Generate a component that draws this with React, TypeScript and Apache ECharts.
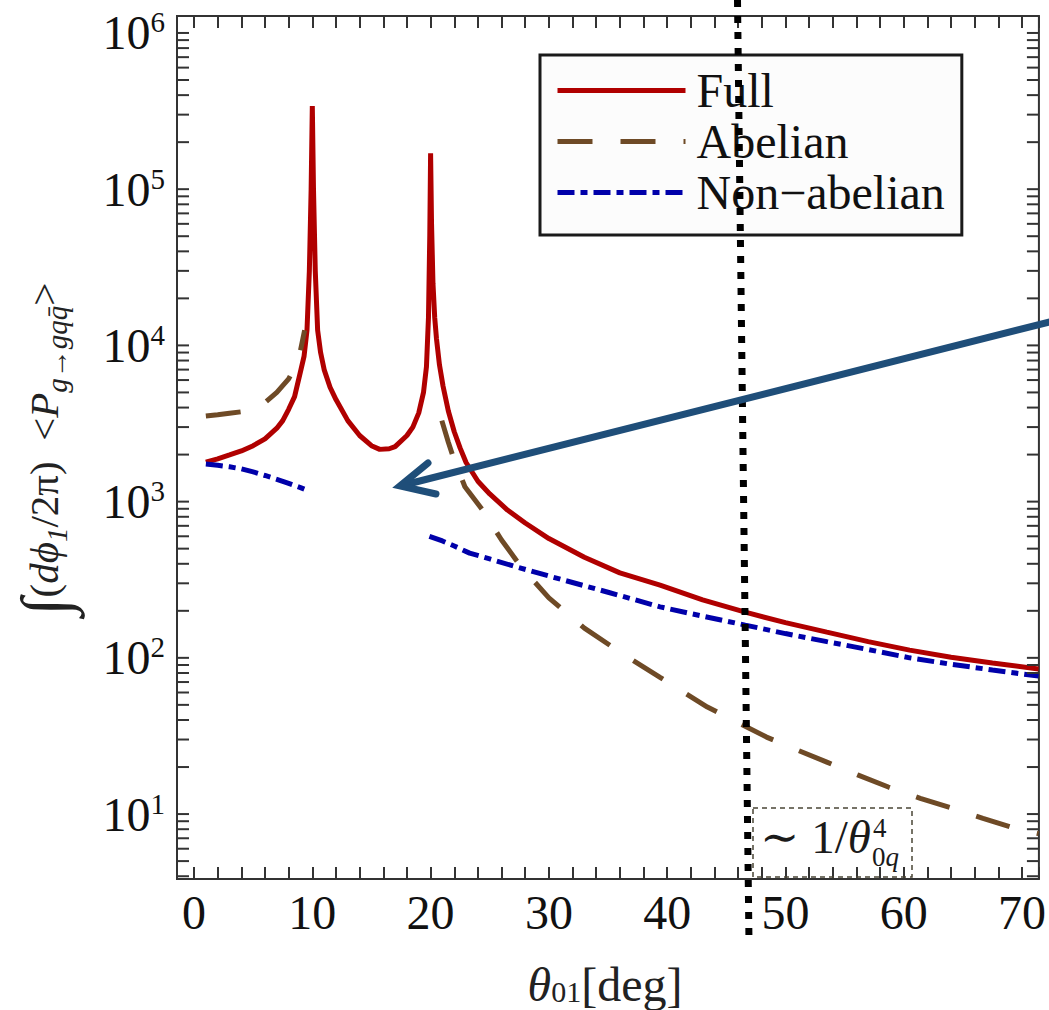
import React, { useEffect, useRef } from 'react';
import * as echarts from 'echarts';

const FONT = "'Liberation Serif', 'DejaVu Serif', serif";
const RED = '#b00000';
const BROWN = '#6e4a26';
const BLUE = '#0000aa';
const ARROW = '#1f4e79';
const AXIS = '#333333';

const X_MIN = -1.44;
const X_MAX = 71.43;
const Y_MIN = 3.84;
const Y_MAX = 1.284e6;

const X_TICK_LABELS = [0, 10, 20, 30, 40, 50, 60, 70];
const Y_DECADES = [1, 10, 100, 1000, 10000, 100000, 1000000];
const Y_MULTIPLES = [1, 2, 3, 4, 5, 6, 7, 8, 9];

const SERIES_NAMES = ['Full', 'Abelian', 'Non\u2212abelian'];

const FULL_X = [1, 2, 3, 4, 5, 6, 7, 7.5, 8, 8.5, 9, 9.3, 9.55, 9.75, 9.9, 10, 10.1, 10.25, 10.45, 10.7, 11, 11.5, 12, 13, 14, 15, 15.7, 16.5, 17, 18, 18.5, 19, 19.4, 19.65, 19.82, 19.93, 20, 20.08, 20.2, 20.35, 20.5, 20.75, 21.05, 21.5, 22, 22.5, 23, 24, 25, 26.5, 28, 30, 33, 36, 39.4, 43, 46.6, 50, 53.5, 57, 60.5, 64, 67.5, 71.4];
const FULL_Y = [1790, 1880, 1990, 2110, 2280, 2520, 2950, 3300, 3900, 4700, 6800, 8500, 12500, 30000, 100000, 340000, 100000, 30000, 12500, 9000, 7000, 5400, 4500, 3300, 2650, 2280, 2160, 2180, 2250, 2650, 3000, 3700, 5000, 7300, 15000, 50000, 170000, 60000, 25000, 15000, 11000, 7500, 5500, 3800, 2800, 2200, 1780, 1350, 1120, 883, 730, 580, 440, 350, 292, 235, 196, 168, 146, 127, 112, 101, 92.7, 84.8];

const ABEL_LEFT_X = [1, 2, 3, 4, 5, 6, 7, 8, 8.5, 9, 9.35];
const ABEL_LEFT_Y = [3530, 3600, 3680, 3760, 3950, 4300, 5000, 6100, 7200, 9300, 12500];
const ABEL_RIGHT_X = [20.95, 21.5, 21.9, 22.9, 24.4, 26, 27.6, 30, 33, 36, 39.4, 43.4, 45.9, 48.4, 51, 53.5, 56.1, 58.7, 61.4, 64.1, 66.7, 69.4, 71.4];
const ABEL_RIGHT_Y = [3300, 2400, 1940, 1245, 883, 568, 387, 242, 155, 109, 75, 48.4, 38.8, 31.1, 25.7, 21.5, 17.8, 14.9, 12.6, 10.9, 9.4, 8.1, 7.5];

const NONAB_LEFT_X = [1, 2, 3, 4, 5, 6, 7, 8, 9, 9.5];
const NONAB_LEFT_Y = [1740, 1710, 1670, 1620, 1550, 1470, 1390, 1310, 1230, 1187];
const NONAB_RIGHT_X = [19.9, 21, 22, 23.3, 25, 27, 30, 35, 39.4, 43, 46.6, 50, 53.5, 57, 60.5, 64, 67.5, 71.4];
const NONAB_RIGHT_Y = [600, 560, 520, 468, 430, 387, 334, 263, 212, 185, 162, 143, 127, 113, 100, 91, 83.6, 76.4];

const zip = (xs: number[], ys: number[]) => xs.map((x, i) => [x, ys[i]]);
const GAP = [15, null];

const Y_TICKS = Y_DECADES.flatMap((d) => Y_MULTIPLES.map((m) => m * d)).filter(
  (v) => v >= Y_MIN && v <= Y_MAX
);

const fmtX = (v: number) =>
  X_TICK_LABELS.some((t) => Math.abs(t - v) < 1e-6) ? String(Math.round(v)) : '';
const fmtY = (v: number) => {
  const e = Math.log10(v);
  const r = Math.round(e);
  return Math.abs(e - r) < 1e-6 ? `{b|10}{s|${r}}` : '';
};

const xAxisBase = {
  type: 'value',
  min: X_MIN,
  max: X_MAX,
  splitNumber: 7,
  axisLine: { show: false },
  splitLine: { show: false },
  axisTick: { show: true, inside: true, length: 12, lineStyle: { color: AXIS, width: 2 } },
  minorTick: { show: true, splitNumber: 5, length: 12, lineStyle: { color: AXIS, width: 2 } },
};

export default function App() {
  const ref = useRef<HTMLDivElement>(null);
  useEffect(() => {
    if (!ref.current) return;
    const chart = echarts.init(ref.current, undefined, { renderer: 'svg' });
    const option: any = {
      animation: false,
      backgroundColor: '#ffffff',
      grid: {
        left: 177,
        top: 16,
        right: 10,
        bottom: 131,
        show: true,
        borderColor: AXIS,
        borderWidth: 2,
        backgroundColor: 'transparent',
      },
      xAxis: [
        {
          ...xAxisBase,
          position: 'bottom',
          axisLabel: { margin: 9, fontSize: 48, fontFamily: FONT, color: '#111', formatter: fmtX },
        },
        { ...xAxisBase, position: 'top', axisLabel: { show: false } },
      ],
      yAxis: [
        {
          type: 'log',
          logBase: 10,
          min: Y_MIN,
          max: Y_MAX,
          axisLine: { show: false },
          axisTick: { show: false },
          splitLine: { show: false },
          minorTick: { show: false },
          axisLabel: {
            margin: 12,
            formatter: fmtY,
            rich: {
              b: { fontSize: 48, fontFamily: FONT, color: '#111', lineHeight: 50, verticalAlign: 'middle' },
              s: { fontSize: 29, fontFamily: FONT, color: '#111', lineHeight: 29, verticalAlign: 'top' },
            },
          },
        },
      ],
      legend: {
        data: SERIES_NAMES,
        orient: 'vertical',
        left: 540,
        top: 55,
        padding: [10, 17, 17, 15],
        itemGap: 0,
        itemWidth: 128,
        itemHeight: 20,
        selectedMode: false,
        backgroundColor: '#fcfcfc',
        borderColor: '#1a1a1a',
        borderWidth: 3,
        borderRadius: 0,
        lineStyle: { width: 5 },
        itemStyle: { opacity: 0, borderWidth: 0 },
        textStyle: { fontSize: 48, fontFamily: FONT, color: '#111', lineHeight: 51, padding: [0, 0, 0, 6] },
      },
      series: [
        {
          name: SERIES_NAMES[0],
          type: 'line',
          data: zip(FULL_X, FULL_Y),
          symbol: 'none',
          showSymbol: false,
          clip: true,
          z: 3,
          lineStyle: { color: RED, width: 5, join: 'bevel', cap: 'butt' },
          itemStyle: { color: RED },
        },
        {
          name: SERIES_NAMES[1],
          type: 'line',
          data: [...zip(ABEL_LEFT_X, ABEL_LEFT_Y), GAP, ...zip(ABEL_RIGHT_X, ABEL_RIGHT_Y)],
          symbol: 'none',
          showSymbol: false,
          connectNulls: false,
          clip: true,
          z: 4,
          lineStyle: { color: BROWN, width: 5, type: [35, 28], cap: 'butt' },
          itemStyle: { color: BROWN },
        },
        {
          name: SERIES_NAMES[2],
          type: 'line',
          data: [...zip(NONAB_LEFT_X, NONAB_LEFT_Y), GAP, ...zip(NONAB_RIGHT_X, NONAB_RIGHT_Y)],
          symbol: 'none',
          showSymbol: false,
          connectNulls: false,
          clip: true,
          z: 5,
          lineStyle: { color: BLUE, width: 5, type: [17, 6, 7, 6], cap: 'butt' },
          itemStyle: { color: BLUE },
        },
        {
          type: 'custom',
          silent: true,
          z: 10,
          data: Y_TICKS.map((v) => [X_MIN, v]),
          renderItem: (_p: any, api: any) => {
            const v = api.value(1);
            const a = api.coord([X_MIN, v]);
            const b = api.coord([X_MAX, v]);
            const st = { stroke: AXIS, lineWidth: 2 };
            return {
              type: 'group',
              children: [
                { type: 'line', shape: { x1: a[0], y1: a[1], x2: a[0] + 12, y2: a[1] }, style: st },
                { type: 'line', shape: { x1: b[0] - 12, y1: b[1], x2: b[0], y2: b[1] }, style: st },
              ],
            };
          },
        },
      ],
      graphic: [
        {
          type: 'text',
          x: 44,
          y: 449,
          rotation: Math.PI / 2,
          style: {
            text: '{int|\u222B}{r|(}{i|d\u03D5}{sub|1}{r|/2\u03C0)  <}{i|P}{sub|g\u2192gqq\u0304}{r|>}',
            align: 'center',
            verticalAlign: 'middle',
            rich: {
              int: { fontSize: 66, fontFamily: FONT, fill: '#222', lineHeight: 54, verticalAlign: 'middle' },
              r: { fontSize: 41, fontFamily: FONT, fill: '#222', lineHeight: 54, verticalAlign: 'middle' },
              i: { fontSize: 41, fontFamily: FONT, fontStyle: 'italic', fill: '#222', lineHeight: 54, verticalAlign: 'middle' },
              sub: { fontSize: 29, fontFamily: FONT, fontStyle: 'italic', fill: '#222', lineHeight: 29, verticalAlign: 'bottom' },
            },
          },
        },
        {
          type: 'text',
          x: 605,
          y: 984,
          style: {
            text: '{i|\u03B8}{sub|01}{r|[deg]}',
            align: 'center',
            verticalAlign: 'middle',
            rich: {
              r: { fontSize: 48, fontFamily: FONT, fill: '#222', lineHeight: 44, verticalAlign: 'middle' },
              i: { fontSize: 48, fontFamily: FONT, fontStyle: 'italic', fill: '#222', lineHeight: 44, verticalAlign: 'middle' },
              sub: { fontSize: 30, fontFamily: FONT, fill: '#222', lineHeight: 28, verticalAlign: 'bottom' },
            },
          },
        },
        {
          type: 'rect',
          z: 90,
          shape: { x: 753, y: 808, width: 159, height: 69 },
          style: { fill: 'none', stroke: '#4a4636', lineWidth: 1.5, lineDash: [5, 4] },
        },
        {
          type: 'text',
          z: 91,
          x: 760,
          y: 837,
          style: {
            text: '{r|\u223C 1/}{i|\u03B8}',
            align: 'left',
            verticalAlign: 'middle',
            rich: {
              r: { fontSize: 47, fontFamily: FONT, fill: '#1a1a1a' },
              i: { fontSize: 47, fontFamily: FONT, fontStyle: 'italic', fill: '#1a1a1a' },
            },
          },
        },
        {
          type: 'text',
          z: 91,
          x: 873,
          y: 828,
          style: { text: '4', fontSize: 27, fontFamily: FONT, fill: '#1a1a1a', align: 'left', verticalAlign: 'middle' },
        },
        {
          type: 'text',
          z: 91,
          x: 872,
          y: 857,
          style: {
            text: '{r|0}{i|q}',
            align: 'left',
            verticalAlign: 'middle',
            rich: {
              r: { fontSize: 27, fontFamily: FONT, fill: '#1a1a1a' },
              i: { fontSize: 27, fontFamily: FONT, fontStyle: 'italic', fill: '#1a1a1a' },
            },
          },
        },
        {
          type: 'line',
          z: 100,
          shape: { x1: 737.5, y1: 0, x2: 749, y2: 942 },
          style: { stroke: '#000', lineWidth: 7, lineDash: [7, 9] },
        },
        {
          type: 'line',
          z: 101,
          shape: { x1: 1065, y1: 318, x2: 402, y2: 485.5 },
          style: { stroke: ARROW, lineWidth: 7, lineCap: 'round' },
        },
        {
          type: 'polyline',
          z: 101,
          shape: { points: [[428, 463], [400, 486], [436, 494]] },
          style: { stroke: ARROW, lineWidth: 7, lineCap: 'round', lineJoin: 'miter', fill: null },
        },
      ],
    };
    chart.setOption(option);
    return () => chart.dispose();
  }, []);
  return (
    <div
      ref={ref}
      style={{ position: 'absolute', left: 0, top: 0, width: 1049, height: 1010, background: '#fff' }}
    />
  );
}
